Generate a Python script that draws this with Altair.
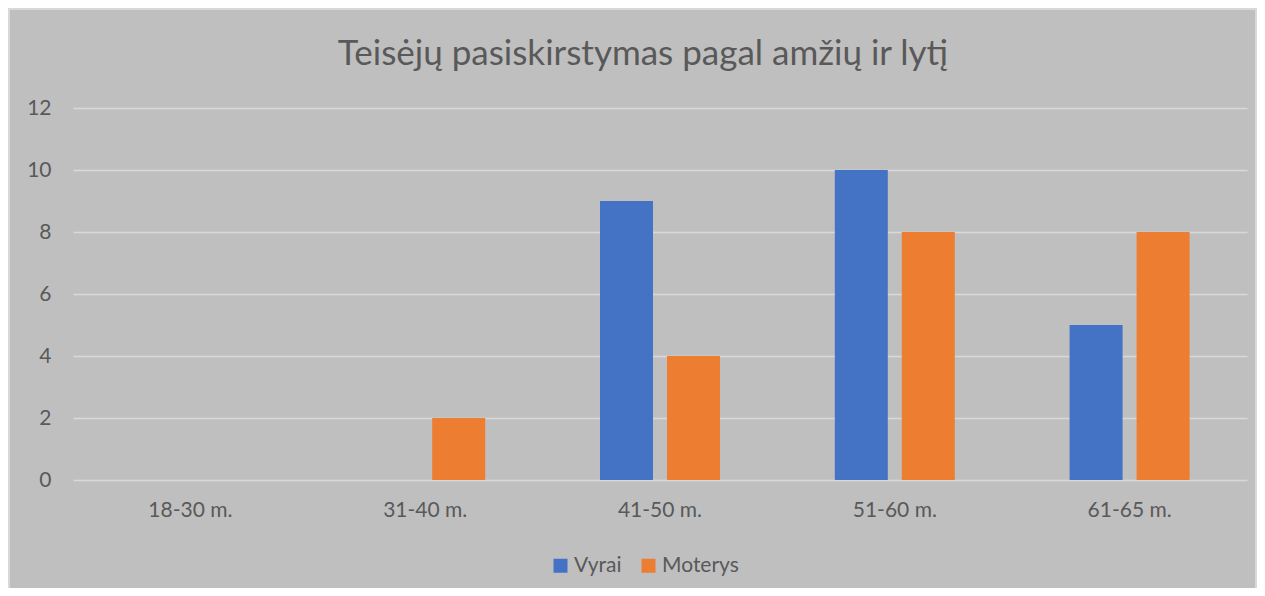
import altair as alt
import pandas as pd

title_text = "Teisėjų pasiskirstymas pagal amžių ir lytį"
categories = ["18-30 m.", "31-40 m.", "41-50 m.", "51-60 m.", "61-65 m."]
series = ["Vyrai", "Moterys"]
vyrai = [0, 0, 9, 10, 5]
moterys = [0, 2, 4, 8, 8]
y_ticks = [0, 2, 4, 6, 8, 10, 12]
colors = ["#4472C4", "#ED7D31"]

rows = []
for c, v, m in zip(categories, vyrai, moterys):
    rows.append({"Amžius": c, "Lytis": "Vyrai", "Skaičius": v})
    rows.append({"Amžius": c, "Lytis": "Moterys", "Skaičius": m})
df = pd.DataFrame(rows)

W, H = 1174, 372
FONT = "Lato"
TXT = "#595959"
FS = 21

bars = alt.Chart(df).mark_bar(clip=False).encode(
    x=alt.X("Amžius:N", sort=categories,
            scale=alt.Scale(paddingInner=0, paddingOuter=0),
            axis=alt.Axis(title=None, labelAngle=0, ticks=False, domain=False,
                          labelPadding=19, labelFontSize=FS, labelColor=TXT,
                          labelFont=FONT, grid=False)),
    xOffset=alt.XOffset("Lytis:N", sort=series,
                        scale=alt.Scale(paddingInner=0.209, paddingOuter=0.857)),
    y=alt.Y("Skaičius:Q", scale=alt.Scale(domain=[0, 12], nice=False),
            axis=alt.Axis(title=None, values=y_ticks, ticks=False, domain=False,
                          labelPadding=22, labelFontSize=FS, labelColor=TXT,
                          labelFont=FONT, gridColor="#d9d9d9", gridWidth=1.5)),
    color=alt.Color("Lytis:N", sort=series,
                    scale=alt.Scale(domain=series, range=colors),
                    legend=alt.Legend(title=None, orient="none", direction="horizontal",
                                      legendX=477, legendY=447,
                                      symbolType="square", symbolSize=196,
                                      symbolStrokeWidth=0,
                                      labelFontSize=FS, labelColor=TXT, labelFont=FONT,
                                      labelOffset=3, columnPadding=16)),
)

border = alt.Chart(pd.DataFrame({"b": [1]})).mark_rect(
    fill=None, stroke="#d9d9d9", strokeWidth=2, clip=False
).encode(
    x=alt.value(-64), x2=alt.value(W + 9),
    y=alt.value(-99), y2=alt.value(H + 130),
)

title = alt.Chart(pd.DataFrame({"t": [title_text]})).mark_text(
    font=FONT, fontSize=35, color=TXT, align="center", baseline="alphabetic"
).encode(
    text="t:N", x=alt.value(570), y=alt.value(-43),
)

chart = alt.layer(border, bars, title).properties(
    width=W, height=H,
    autosize=alt.AutoSizeParams(type="none"),
    padding={"left": 65, "top": 100, "right": 10, "bottom": 108},
    background="#bfbfbf",
).configure_view(stroke=None)

chart.save("out.html", embed_options={"renderer": "svg", "actions": False})
